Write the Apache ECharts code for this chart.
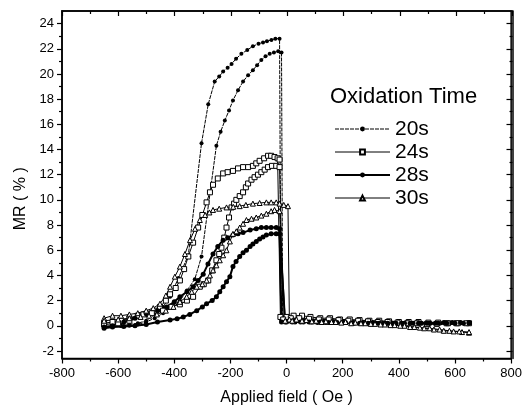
<!DOCTYPE html>
<html>
<head>
<meta charset="utf-8">
<script src="https://cdn.jsdelivr.net/npm/echarts@6/dist/echarts.min.js"></script>
<style>
html,body{margin:0;padding:0;background:#fff;}
#chart{width:525px;height:414px;}
</style>
</head>
<body>
<div id="chart"></div>
<script>
// ---- Data (Applied field in Oe, MR in %) ----
const legendNames = ['20s', '24s', '28s', '30s'];
const yMajorTicks = [-2, 0, 2, 4, 6, 8, 10, 12, 14, 16, 18, 20, 22, 24];
const yMinorTicks = [-1, 1, 3, 5, 7, 9, 11, 13, 15, 17, 19, 21, 23];

const h20a = [-650,-620,-590,-560,-530,-500,-470,-440,-415,-385,-350,-303,-279,-256,-240,-226,-210,-196,-180,-161,-140,-120,-100,-84,-70,-54,-40,-25,-20,0,30,60,95,130,165,200,235,270,305,340,375,410,445,480,515,550,585,620,650];
const mr20a = [-0.1,-0.1,0.0,0.1,0.2,0.4,0.9,1.5,2.3,3.8,5.6,14.5,17.6,19.4,19.8,20.2,20.5,20.8,21.2,21.6,21.9,22.2,22.4,22.5,22.6,22.7,22.8,22.8,0.5,0.5,0.45,0.45,0.4,0.4,0.35,0.35,0.3,0.3,0.3,0.25,0.25,0.2,0.2,0.2,0.2,0.2,0.2,0.2,0.2];

const h20b = [-650,-620,-590,-560,-530,-500,-470,-440,-410,-380,-355,-327,-303,-250,-235,-220,-205,-191,-173,-155,-137,-120,-105,-90,-75,-60,-45,-30,-18,-14,10,40,75,110,145,180,215,250,285,320,355,390,425,460,495,530,565,600,630,650];
const mr20b = [-0.1,-0.1,0.0,0.0,0.1,0.3,0.6,1.0,1.5,2.0,2.8,3.7,5.5,14.3,15.4,16.3,17.1,17.9,18.7,19.4,19.9,20.3,20.7,21.1,21.4,21.6,21.7,21.8,21.7,0.5,0.5,0.45,0.4,0.4,0.35,0.35,0.3,0.3,0.3,0.3,0.25,0.25,0.25,0.2,0.2,0.2,0.2,0.2,0.2,0.2];

const h24a = [-650,-620,-590,-560,-530,-493,-470,-451,-430,-415,-395,-380,-365,-350,-333,-315,-300,-285,-273,-262,-245,-226,-210,-191,-173,-155,-137,-120,-108,-96,-80,-66,-55,-43,-32,-25,-22,0,25,55,85,120,155,190,225,260,295,330,365,400,435,470,505,540,575,610,650];
const mr24a = [0.2,0.3,0.4,0.6,0.8,0.95,1.2,1.5,2.0,2.5,3.0,3.6,4.5,5.5,6.6,7.8,8.8,9.8,10.6,11.2,11.7,12.1,12.2,12.3,12.5,12.6,12.6,12.7,12.9,13.1,13.3,13.5,13.5,13.4,13.3,13.2,0.7,0.7,0.8,0.8,0.7,0.6,0.6,0.5,0.5,0.45,0.4,0.4,0.35,0.3,0.3,0.3,0.25,0.25,0.2,0.2,0.2];

const h24b = [-650,-600,-560,-510,-480,-440,-410,-380,-355,-333,-309,-295,-279,-265,-250,-240,-232,-222,-214,-205,-196,-187,-179,-167,-155,-145,-137,-125,-114,-102,-90,-78,-66,-52,-37,-25,-12,15,45,80,115,150,185,220,255,290,325,360,395,430,465,500,535,570,605,640];
const mr24b = [0.1,0.2,0.4,0.9,1.0,1.2,1.5,1.7,2.0,2.3,3.1,3.3,3.6,4.4,5.2,5.7,6.2,7.0,7.8,8.6,9.4,9.7,10.0,10.3,10.6,11.0,11.3,11.6,11.8,12.0,12.2,12.4,12.6,12.7,12.7,12.6,0.5,0.6,0.6,0.55,0.5,0.5,0.45,0.4,0.4,0.35,0.3,0.3,0.25,0.2,0.2,0.15,0.15,0.2,0.2,0.2];

const h28a = [-650,-620,-580,-540,-500,-460,-427,-400,-380,-355,-333,-315,-297,-280,-262,-245,-226,-210,-191,-173,-155,-130,-108,-90,-72,-55,-37,-25,-18,0,30,60,90,120,150,180,210,240,270,300,330,360,390,420,450,480,510,540,570,600,630,650];
const mr28a = [-0.1,0.0,0.3,0.6,0.95,1.2,1.5,1.9,2.3,2.7,3.1,3.6,4.1,4.9,5.7,6.3,6.8,7.0,7.2,7.3,7.4,7.6,7.7,7.8,7.8,7.8,7.8,7.7,0.3,0.3,0.3,0.3,0.3,0.3,0.25,0.25,0.25,0.2,0.2,0.2,0.2,0.2,0.2,0.2,0.2,0.2,0.2,0.2,0.2,0.2,0.2,0.2];

const h28b = [-650,-620,-580,-540,-500,-460,-415,-390,-368,-345,-320,-300,-285,-265,-250,-238,-226,-214,-202,-191,-180,-167,-155,-143,-130,-120,-108,-96,-84,-72,-55,-37,-25,-5,20,50,80,110,140,170,200,230,260,290,320,350,380,410,440,470,500,530,560,590,620,650];
const mr28b = [-0.2,-0.1,-0.05,0.0,0.1,0.3,0.45,0.55,0.7,0.9,1.2,1.5,1.75,2.0,2.3,2.7,3.1,3.5,3.9,4.7,5.1,5.5,5.8,6.0,6.3,6.5,6.7,6.9,7.05,7.2,7.3,7.3,7.3,0.3,0.3,0.3,0.3,0.25,0.25,0.25,0.25,0.2,0.2,0.2,0.2,0.2,0.2,0.2,0.2,0.2,0.2,0.2,0.25,0.25,0.25,0.25];

const h30a = [-650,-620,-590,-560,-530,-500,-475,-451,-430,-415,-398,-380,-362,-344,-326,-309,-290,-275,-262,-240,-214,-190,-167,-145,-120,-96,-72,-55,-37,-25,-10,5,10,35,70,105,140,175,210,245,280,315,350,385,420,455,490,525,560,595,625,650];
const mr30a = [0.6,0.8,0.8,0.9,1.0,1.2,1.4,1.75,2.4,3.1,3.9,4.7,5.7,6.8,7.7,8.4,8.8,9.0,9.2,9.3,9.4,9.45,9.5,9.6,9.7,9.75,9.8,9.8,9.8,9.7,9.6,9.5,0.5,0.5,0.45,0.4,0.35,0.3,0.3,0.25,0.2,0.15,0.1,0.05,0.0,-0.1,-0.2,-0.3,-0.4,-0.45,-0.5,-0.55];

const h30b = [-650,-600,-560,-520,-490,-462,-430,-403,-380,-356,-338,-320,-300,-285,-273,-262,-250,-238,-226,-214,-202,-191,-179,-167,-155,-143,-125,-108,-90,-72,-55,-43,-25,-5,20,55,90,125,160,195,230,265,300,335,370,405,440,475,510,545,580,615,650];
const mr30b = [0.4,0.5,0.6,0.7,0.8,0.9,1.2,1.5,1.9,2.3,2.7,3.1,3.3,3.6,4.0,4.4,4.8,5.2,5.6,6.0,6.7,7.3,7.5,7.8,8.1,8.4,8.5,8.6,8.75,8.9,9.1,9.2,9.1,0.4,0.4,0.4,0.35,0.3,0.3,0.25,0.2,0.2,0.15,0.1,0.05,0.0,-0.1,-0.15,-0.2,-0.3,-0.4,-0.45,-0.5];

// ---- Build ----
const zip = (h, m) => h.map((x, i) => [x, m[i]]);
const FONT = 'Liberation Sans, Arial, sans-serif';
const styles = {
  '20s': {symbol: 'circle', symbolSize: 4, itemStyle: {color: '#000'}, lineStyle: {color: '#000', width: 1, type: [4, 1]}},
  '24s': {symbol: 'rect', symbolSize: 5, itemStyle: {color: '#fff', borderColor: '#000', borderWidth: 1}, lineStyle: {color: '#000', width: 1}},
  '28s': {symbol: 'circle', symbolSize: 5, itemStyle: {color: '#000'}, lineStyle: {color: '#000', width: 2}},
  '30s': {symbol: 'triangle', symbolSize: 5, itemStyle: {color: '#fff', borderColor: '#000', borderWidth: 1}, lineStyle: {color: '#000', width: 1}}
};
const branches = [
  ['20s', h20a, mr20a], ['20s', h20b, mr20b],
  ['24s', h24a, mr24a], ['24s', h24b, mr24b],
  ['28s', h28a, mr28a], ['28s', h28b, mr28b],
  ['30s', h30a, mr30a], ['30s', h30b, mr30b]
];
const series = branches.map(([name, h, m]) => Object.assign({
  type: 'line', name: name, data: zip(h, m), xAxisIndex: 0, yAxisIndex: 0,
  showAllSymbol: true, animation: false, emphasis: {disabled: true}
}, JSON.parse(JSON.stringify(styles[name]))));

const axisLineStyle = {color: '#000', width: 1.5};
const tickStyle = {color: '#000', width: 1.2};
const gridRect = {left: 62, right: 12.5, top: 11, bottom: 55.5, containLabel: false};
const xRange = {type: 'value', min: -800, max: 800, interval: 200, splitLine: {show: false}};
const yRange = {type: 'value', min: -2.6, max: 25, splitLine: {show: false}};
const hiddenX = (g) => Object.assign({}, xRange, {gridIndex: g, show: false, axisLine: {show: false, onZero: false}});

const option = {
  backgroundColor: '#fff',
  animation: false,
  textStyle: {fontFamily: FONT},
  grid: [
    Object.assign({}, gridRect, {show: true, borderColor: '#000', borderWidth: 1.5, backgroundColor: 'transparent'}),
    Object.assign({}, gridRect),
    Object.assign({}, gridRect),
    Object.assign({}, gridRect)
  ],
  xAxis: [
    Object.assign({}, xRange, {gridIndex: 0, position: 'bottom',
     axisLine: {show: true, onZero: false, lineStyle: axisLineStyle},
     axisTick: {show: true, length: 5, lineStyle: tickStyle},
     minorTick: {show: true, splitNumber: 2, length: 3, lineStyle: tickStyle},
     axisLabel: {color: '#000', fontSize: 13, fontFamily: FONT, margin: 8},
     name: 'Applied field ( Oe )', nameLocation: 'middle', nameGap: 31,
     nameTextStyle: {color: '#000', fontSize: 16, fontFamily: FONT}}),
    Object.assign({}, xRange, {gridIndex: 1, position: 'top',
     axisLine: {show: true, onZero: false, lineStyle: axisLineStyle},
     axisTick: {show: true, inside: true, length: 5, lineStyle: tickStyle},
     minorTick: {show: true, splitNumber: 2, length: 3, lineStyle: tickStyle},
     axisLabel: {show: false}}),
    hiddenX(2),
    hiddenX(3)
  ],
  yAxis: [
    Object.assign({}, yRange, {gridIndex: 0, position: 'left',
     axisLine: {show: true, onZero: false, lineStyle: axisLineStyle},
     axisTick: {show: true, length: 5, customValues: yMajorTicks, lineStyle: tickStyle},
     axisLabel: {color: '#000', fontSize: 13, fontFamily: FONT, margin: 8, customValues: yMajorTicks},
     name: 'MR ( % )', nameLocation: 'middle', nameGap: 33,
     nameTextStyle: {color: '#000', fontSize: 16, fontFamily: FONT, padding: [0, 28, 0, 0]}}),
    Object.assign({}, yRange, {gridIndex: 1, position: 'right',
     axisLine: {show: true, onZero: false, lineStyle: axisLineStyle},
     axisTick: {show: true, inside: true, length: 6, customValues: yMajorTicks, lineStyle: tickStyle},
     axisLabel: {show: false}}),
    Object.assign({}, yRange, {gridIndex: 2, position: 'left',
     axisLine: {show: false, onZero: false},
     axisTick: {show: true, length: 3, customValues: yMinorTicks, lineStyle: tickStyle},
     axisLabel: {show: false}}),
    Object.assign({}, yRange, {gridIndex: 3, position: 'right',
     axisLine: {show: false, onZero: false},
     axisTick: {show: true, inside: true, length: 3, customValues: yMinorTicks, lineStyle: tickStyle},
     axisLabel: {show: false}})
  ],
  legend: {
    data: legendNames, orient: 'vertical', left: 334, top: 118, padding: 0,
    itemWidth: 55, itemHeight: 6, itemGap: 1,
    lineStyle: {width: 'inherit'},
    textStyle: {color: '#000', fontSize: 21, fontFamily: FONT, lineHeight: 22},
    selectedMode: false
  },
  graphic: [{
    type: 'text', left: 330, top: 86,
    style: {text: 'Oxidation Time', fill: '#000', font: '22px ' + FONT}
  }],
  series: series
};

const chart = echarts.init(document.getElementById('chart'), null, {renderer: 'canvas'});
chart.setOption(option);
</script>
</body>
</html>
